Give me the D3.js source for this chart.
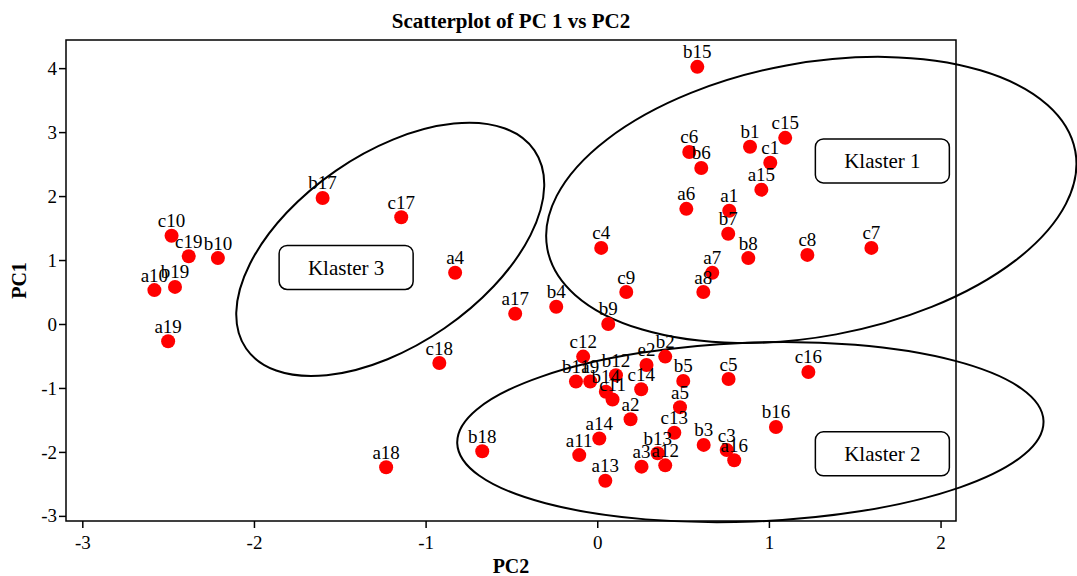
<!DOCTYPE html>
<html>
<head>
<meta charset="utf-8">
<script src="https://cdn.jsdelivr.net/npm/d3@7"></script>
<style>
  body { margin: 0; background: #fff; }
  svg { font-family: "Liberation Serif", "Times New Roman", serif; }
</style>
</head>
<body>
<div id="graph"></div>
<script>
// Observation labels and their scores (PC2 on x, PC1 on y)
const labels = ["b15","c6","b6","b1","c15","c1","a15","a6","a1","b7","b8","c8","c7","a7","a8","c9","c4","b9","b4","a17",
  "a4","c17","b17","c18","a18","b18","c10","c19","b10","b19","a10","a19","c12","b2","e2","b12","b11","a9","b14","c11",
  "a2","c14","b5","c5","a5","c13","b16","a14","a11","b13","a12","a3","a13","b3","c3","a16","c16"];
const pc2 = [0.583,0.536,0.606,0.89,1.095,1.008,0.956,0.519,0.769,0.763,0.88,1.224,1.597,0.67,0.618,0.169,0.023,0.064,-0.239,-0.478,
  -0.828,-1.142,-1.60,-0.92,-1.23,-0.67,-2.48,-2.38,-2.21,-2.46,-2.58,-2.50,-0.082,0.396,0.287,0.109,-0.124,-0.041,0.05,0.089,
  0.194,0.256,0.501,0.765,0.482,0.449,1.041,0.012,-0.105,0.352,0.396,0.258,0.047,0.62,0.754,0.798,1.23];
const pc1 = [4.02,2.69,2.44,2.77,2.91,2.52,2.10,1.80,1.77,1.41,1.03,1.08,1.19,0.80,0.50,0.50,1.19,0.0,0.27,0.16,
  0.80,1.67,1.97,-0.61,-2.24,-1.99,1.38,1.06,1.03,0.58,0.53,-0.27,-0.51,-0.51,-0.64,-0.80,-0.90,-0.90,-1.06,-1.18,
  -1.49,-1.02,-0.89,-0.86,-1.30,-1.70,-1.61,-1.79,-2.05,-2.02,-2.21,-2.23,-2.45,-1.89,-1.97,-2.13,-0.75];

const xTicks = [-3, -2, -1, 0, 1, 2];
const yTicks = [-3, -2, -1, 0, 1, 2, 3, 4];

// Cluster ellipses: centre (data units), semi-axes (x / y units), tilt in degrees
const clusterNames = ["Klaster 1", "Klaster 2", "Klaster 3"];
const clusterCx = [1.247, 0.892, -1.206];
const clusterCy = [1.94, -1.69, 1.166];
const clusterRx = [1.564, 1.709, 1.019];
const clusterRy = [2.138, 1.399, 1.496];
const clusterTilt = [-10.5, -2.2, -34.5];
// where the cluster name boxes sit (data units)
const boxX = [1.661, 1.661, -1.463];
const boxY = [2.55, -2.03, 0.884];

const width = 1077;
const height = 576;
const marginTop = 40;
const marginRight = 121;
const marginBottom = 55;
const marginLeft = 66;

const x = d3.scaleLinear()
    .domain([-3.095, 2.09])
    .range([marginLeft, width - marginRight]);

const y = d3.scaleLinear()
    .domain([-3.08, 4.44])
    .range([height - marginBottom, marginTop]);

const svg = d3.create("svg")
    .attr("width", width)
    .attr("height", height);

// Title
svg.append("text")
    .attr("x", (marginLeft + width - marginRight) / 2)
    .attr("y", 28)
    .attr("text-anchor", "middle")
    .attr("font-weight", "bold")
    .attr("font-size", 21)
    .text("Scatterplot of PC 1 vs PC2");

// plain hyphen for negatives, like the original
const tickFmt = d => String(d);

// Axes
svg.append("g")
    .attr("transform", `translate(0,${height - marginBottom})`)
    .call(d3.axisBottom(x).tickValues(xTicks).tickSize(7).tickSizeOuter(0).tickFormat(tickFmt))
    .call(g => g.select(".domain").remove())
    .call(g => g.selectAll("line").attr("stroke-width", 1.5))
    .call(g => g.selectAll("text").attr("font-size", 19).attr("font-family", "Liberation Serif").attr("fill", "#000").attr("dy", "0.95em"));

svg.append("g")
    .attr("transform", `translate(${marginLeft},0)`)
    .call(d3.axisLeft(y).tickValues(yTicks).tickSize(7).tickSizeOuter(0).tickFormat(tickFmt))
    .call(g => g.select(".domain").remove())
    .call(g => g.selectAll("line").attr("stroke-width", 1.5))
    .call(g => g.selectAll("text").attr("font-size", 19).attr("font-family", "Liberation Serif").attr("fill", "#000").attr("x", -9));

// Frame
svg.append("rect")
    .attr("x", marginLeft)
    .attr("y", marginTop)
    .attr("width", width - marginRight - marginLeft)
    .attr("height", height - marginBottom - marginTop)
    .attr("fill", "none")
    .attr("stroke", "#000")
    .attr("stroke-width", 1.5);

// Axis titles
svg.append("text")
    .attr("x", (marginLeft + width - marginRight) / 2)
    .attr("y", 573)
    .attr("text-anchor", "middle")
    .attr("font-weight", "bold")
    .attr("font-size", 20)
    .text("PC2");

svg.append("text")
    .attr("transform", `translate(26,${(marginTop + height - marginBottom) / 2}) rotate(-90)`)
    .attr("text-anchor", "middle")
    .attr("font-weight", "bold")
    .attr("font-size", 20)
    .text("PC1");

// Cluster ellipses
const clusters = clusterNames.map((name, i) => ({
  name, cx: clusterCx[i], cy: clusterCy[i], rx: clusterRx[i], ry: clusterRy[i],
  tilt: clusterTilt[i], bx: boxX[i], by: boxY[i]
}));

svg.append("g")
    .selectAll("ellipse")
    .data(clusters)
    .join("ellipse")
    .attr("cx", d => x(d.cx))
    .attr("cy", d => y(d.cy))
    .attr("rx", d => x(d.rx) - x(0))
    .attr("ry", d => y(0) - y(d.ry))
    .attr("transform", d => `rotate(${d.tilt},${x(d.cx)},${y(d.cy)})`)
    .attr("fill", "none")
    .attr("stroke", "#000")
    .attr("stroke-width", 2);

// Points and labels
const points = labels.map((label, i) => ({ label, x: pc2[i], y: pc1[i] }));

svg.append("g")
    .selectAll("circle")
    .data(points)
    .join("circle")
    .attr("cx", d => x(d.x))
    .attr("cy", d => y(d.y))
    .attr("r", 7)
    .attr("fill", "#ff0000");

svg.append("g")
    .selectAll("text")
    .data(points)
    .join("text")
    .attr("x", d => x(d.x))
    .attr("y", d => y(d.y) - 8.5)
    .attr("text-anchor", "middle")
    .attr("font-size", 19)
    .attr("fill", "#000")
    .text(d => d.label);

// Cluster name boxes
const boxes = svg.append("g")
    .selectAll("g")
    .data(clusters)
    .join("g")
    .attr("transform", d => `translate(${x(d.bx)},${y(d.by)})`);

boxes.append("rect")
    .attr("x", -67)
    .attr("y", -22)
    .attr("width", 134)
    .attr("height", 44)
    .attr("rx", 8)
    .attr("fill", "#fff")
    .attr("stroke", "#000")
    .attr("stroke-width", 1.5);

boxes.append("text")
    .attr("text-anchor", "middle")
    .attr("dy", "0.35em")
    .attr("font-size", 21)
    .text(d => d.name);

document.getElementById("graph").appendChild(svg.node());
</script>
</body>
</html>
